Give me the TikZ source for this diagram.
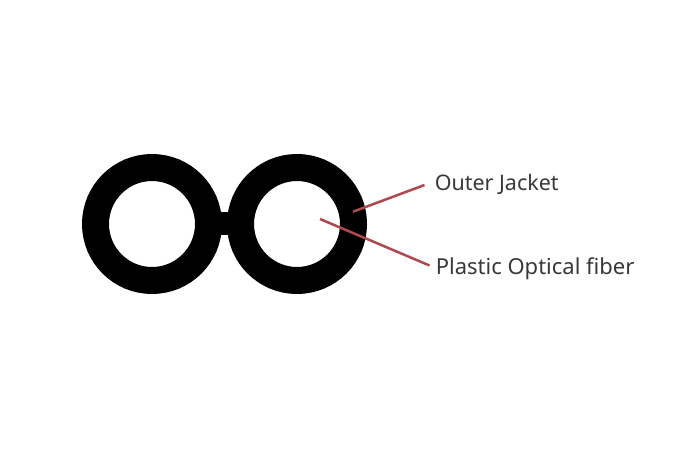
\documentclass[tikz,border=0pt]{standalone}
\usepackage{fontspec}
\setmainfont{Noto Sans}
\definecolor{leader}{RGB}{172,74,80}
\definecolor{labeltext}{RGB}{56,56,56}
\tikzset{
  ring/.style={circle,draw=black,line width=27pt*0.75,fill=white,minimum size=86pt*0.75+27pt*0.75,inner sep=0pt},
  leaderline/.style={draw=leader,line width=1.9pt},
  lab/.style={text=labeltext,font=\fontsize{16.5pt}{20pt}\selectfont,anchor=base west,inner sep=0pt}
}
\begin{document}
\begin{tikzpicture}[x=0.75pt,y=-0.75pt]
\useasboundingbox (0,0) rectangle (680,453);
\fill[black] (215,212) rectangle (235,235);
\node[ring] (r1) at (152,224) {};
\node[ring] (r2) at (297,224) {};
\node[lab,font=\fontsize{16.1pt}{20pt}\selectfont] (a) at (434.5,190) {Outer Jacket};
\node[lab] (b) at (435.5,274) {Plastic Optical fiber};
\coordinate (a0) at (353,211.7);
\coordinate (a1) at (424.5,185);
\coordinate (b0) at (320,219);
\coordinate (b1) at (429.5,265.5);
\draw[leaderline] (a0) -- (a1);
\draw[leaderline] (b0) -- (b1);
\end{tikzpicture}
\end{document}
